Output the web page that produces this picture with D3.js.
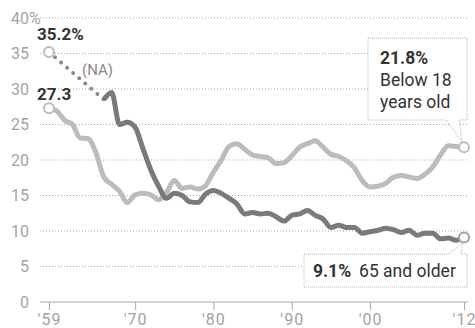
<!DOCTYPE html>
<html>
<head>
<meta charset="utf-8">
<script src="https://cdn.jsdelivr.net/npm/d3@7"></script>
<style>
  html, body { margin: 0; padding: 0; background: #fff; }
  svg { display: block; font-family: Roboto, "Liberation Sans", Arial, sans-serif; }
</style>
</head>
<body>
<div id="chart"></div>
<script>
// poverty rate by age group, percent
const under18Start = 1959;
const under18 = [27.3, 26.9, 25.6, 25.0, 23.1, 23.0, 21.0, 17.6, 16.6, 15.6,
  14.0, 15.1, 15.3, 15.1, 14.4, 15.4, 17.1, 16.0, 16.2, 15.9,
  16.4, 18.3, 20.0, 21.9, 22.3, 21.5, 20.7, 20.5, 20.3, 19.5,
  19.6, 20.6, 21.8, 22.3, 22.7, 21.8, 20.8, 20.5, 19.9, 18.9,
  17.1, 16.2, 16.3, 16.7, 17.6, 17.8, 17.6, 17.4, 18.0, 19.0,
  20.7, 22.0, 21.9, 21.8];

const olderStart = 1966;
const older = [28.5, 29.5, 25.0, 25.3, 24.6, 21.6, 18.6, 16.3, 14.6, 15.3,
  15.0, 14.1, 14.0, 15.2, 15.7, 15.3, 14.6, 13.8, 12.4, 12.6,
  12.4, 12.5, 12.0, 11.4, 12.2, 12.4, 12.9, 12.2, 11.7, 10.5,
  10.8, 10.5, 10.5, 9.7, 9.9, 10.1, 10.4, 10.2, 9.8, 10.1,
  9.4, 9.7, 9.7, 8.9, 9.0, 8.7, 9.1];

// 65+ has no data 1960-65, drawn as a dotted gap
const olderNA = [{ year: 1959, value: 35.2 }, { year: 1966, value: 28.5 }];

const xTicks = [1959, 1970, 1980, 1990, 2000, 2012];
const xTickLabels = ["'59", "'70", "'80", "'90", "'00", "'12"];
const yTicks = [0, 5, 10, 15, 20, 25, 30, 35, 40];

const width = 475;
const height = 328;

const x = d3.scaleLinear().domain([1959, 2012]).range([49, 464]);
const y = d3.scaleLinear().domain([0, 40]).range([302, 18]);

const svg = d3.select("#chart").append("svg")
  .attr("width", width)
  .attr("height", height);

const toPoints = (start, values) => values.map((v, i) => ({ year: start + i, value: v }));
const kidsData = toPoints(under18Start, under18);
const olderData = toPoints(olderStart, older);

// gridlines
svg.append("g")
  .selectAll("line")
  .data(yTicks.filter(d => d > 0))
  .join("line")
  .attr("x1", 40)
  .attr("x2", 468)
  .attr("y1", d => y(d))
  .attr("y2", d => y(d))
  .attr("stroke", "#aaa")
  .attr("stroke-width", 1)
  .attr("stroke-dasharray", "1 2");

// y labels
const yLabels = svg.append("g")
  .attr("font-size", 16)
  .attr("fill", "#a3a3a3");
yLabels.selectAll("text")
  .data(yTicks)
  .join("text")
  .attr("x", 29)
  .attr("y", d => y(d))
  .attr("dy", "0.35em")
  .attr("text-anchor", "end")
  .text(d => d);
yLabels.append("text")
  .attr("x", 29)
  .attr("y", y(40))
  .attr("dy", "0.35em")
  .text("%");

// x axis
const xAxis = d3.axisBottom(x)
  .tickValues(xTicks)
  .tickFormat((d, i) => xTickLabels[i])
  .tickSize(8)
  .tickSizeOuter(0)
  .tickPadding(4);

const gx = svg.append("g")
  .attr("transform", `translate(0,${y(0)})`)
  .call(xAxis);
gx.select(".domain").remove();
gx.selectAll(".tick line").attr("stroke", "#aaa");
gx.selectAll(".tick text")
  .attr("fill", "#a3a3a3")
  .attr("font-size", 16)
  .attr("letter-spacing", 1)
  .attr("font-family", "Roboto, 'Liberation Sans', Arial, sans-serif");
svg.append("line")
  .attr("x1", 40).attr("x2", 468)
  .attr("y1", y(0)).attr("y2", y(0))
  .attr("stroke", "#aaa");

const line = d3.line()
  .x(d => x(d.year))
  .y(d => y(d.value))
  .curve(d3.curveMonotoneX);

// dotted NA segment
svg.append("path")
  .datum(olderNA)
  .attr("d", d3.line().x(d => x(d.year)).y(d => y(d.value)))
  .attr("fill", "none")
  .attr("stroke", "#8a8a8a")
  .attr("stroke-width", 4)
  .attr("stroke-linecap", "round")
  .attr("stroke-dasharray", "0 8");

svg.append("path")
  .datum(kidsData)
  .attr("d", line)
  .attr("fill", "none")
  .attr("stroke", "#bcbcbc")
  .attr("stroke-width", 5)
  .attr("stroke-linejoin", "round");

svg.append("path")
  .datum(olderData)
  .attr("d", line)
  .attr("fill", "none")
  .attr("stroke", "#7a7a7a")
  .attr("stroke-width", 5)
  .attr("stroke-linejoin", "round");

// callout boxes (drawn before end circles)
function callout(x0, y0, x1, y1, tipA, tipB, tip, side) {
  let p;
  if (side === "bottom") {
    p = `M${x0},${y0}H${x1}V${y1}H${tipB}L${tip[0]},${tip[1]}L${tipA},${y1}H${x0}Z`;
  } else {
    p = `M${x0},${y0}H${tipA}L${tip[0]},${tip[1]}L${tipB},${y0}H${x1}V${y1}H${x0}Z`;
  }
  svg.append("path")
    .attr("d", p)
    .attr("fill", "#fff")
    .attr("stroke", "#b5b5b5")
    .attr("stroke-width", 1)
    .attr("stroke-dasharray", "1 1");
}

const lastKid = kidsData[kidsData.length - 1];
const lastOld = olderData[olderData.length - 1];

callout(368, 38, 467, 120, 446, 459, [x(lastKid.year) - 2, y(lastKid.value) - 5], "bottom");
callout(304, 254, 467, 287, 449, 461, [x(lastOld.year) - 1, y(lastOld.value) + 5], "top");

// start / end markers
const markers = [
  { year: 1959, value: 35.2, stroke: "#bdbdbd" },
  { year: 1959, value: under18[0], stroke: "#bdbdbd" },
  { year: lastKid.year, value: lastKid.value, stroke: "#bdbdbd" },
  { year: lastOld.year, value: lastOld.value, stroke: "#a0a0a0" }
];
svg.append("g")
  .selectAll("circle")
  .data(markers)
  .join("circle")
  .attr("cx", d => x(d.year))
  .attr("cy", d => y(d.value))
  .attr("r", 5)
  .attr("fill", "#fff")
  .attr("stroke", d => d.stroke)
  .attr("stroke-width", 2);

// text labels
const dark = "#333";
svg.append("text")
  .attr("x", 37).attr("y", 40)
  .attr("font-size", 17).attr("font-weight", "bold").attr("fill", dark)
  .text("35.2%");
svg.append("text")
  .attr("x", 37).attr("y", 100)
  .attr("font-size", 17).attr("font-weight", "bold").attr("fill", dark)
  .text("27.3");
svg.append("text")
  .attr("x", 82).attr("y", 75)
  .attr("font-size", 15).attr("fill", "#8a8a8a")
  .text("(NA)");

const kidLabel = svg.append("text")
  .attr("font-size", 17.5).attr("fill", dark);
kidLabel.append("tspan").attr("x", 380).attr("y", 64)
  .attr("font-weight", "bold").text("21.8%");
kidLabel.append("tspan").attr("x", 380).attr("y", 86).text("Below 18");
kidLabel.append("tspan").attr("x", 380).attr("y", 108).text("years old");

const oldLabel = svg.append("text")
  .attr("x", 313).attr("y", 277)
  .attr("font-size", 17.5).attr("fill", dark);
oldLabel.append("tspan").attr("font-weight", "bold").text("9.1%");
oldLabel.append("tspan").attr("dx", 8).text("65 and older");
</script>
</body>
</html>
